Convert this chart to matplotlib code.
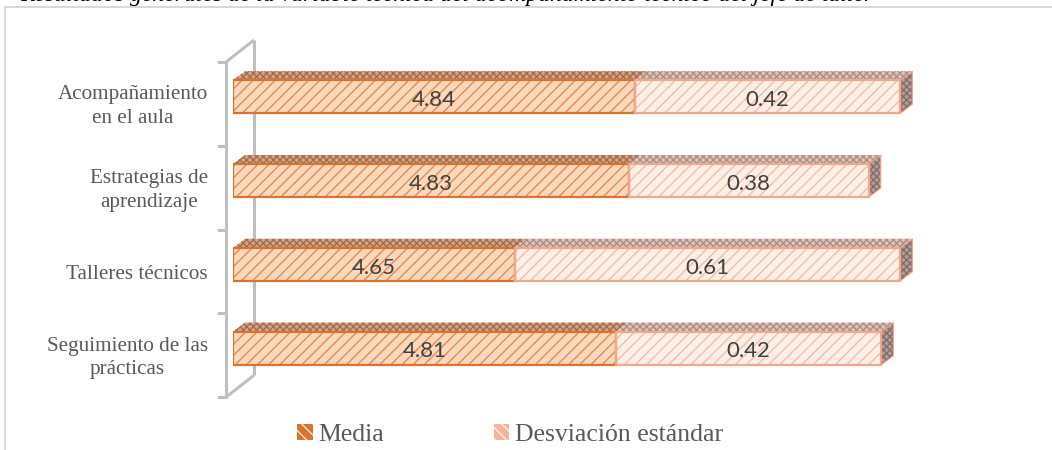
import matplotlib
matplotlib.use("Agg")
import matplotlib.pyplot as plt
import numpy as np
from matplotlib.patches import Polygon, Patch
from matplotlib.lines import Line2D

# ---------------- data ----------------
categories = ["Acompañamiento\nen el aula", "Estrategias de\naprendizaje",
              "Talleres técnicos", "Seguimiento de las\nprácticas"]
media = [4.84, 4.83, 4.65, 4.81]
desviacion = [0.42, 0.38, 0.61, 0.42]
series_names = ["Media", "Desviación estándar"]
title_text = ("Resultados generales de la variable técnica del acompañamiento "
              "técnico del jefe de taller")
x_min = 4.204

# ---------------- figure ----------------
W, H = 1052, 450
fig = plt.figure(figsize=(W / 100, H / 100), dpi=100)
plt.rcParams['hatch.linewidth'] = 1.0

def fx(x):
    return x / W

def fy(y):
    return 1 - y / H

# axes: bars start at px 233, 632 px per unit
ax_left, ax_right, ax_top, ax_bot = 233, 1001, 40, 400
ax = fig.add_axes([fx(ax_left), fy(ax_bot), (ax_right - ax_left) / W, (ax_bot - ax_top) / H])
ax.set_xlim(x_min, x_min + (ax_right - ax_left) / 632)
ax.set_ylim(3.619, -0.677)
ax.axis('off')

n = len(categories)
ypos = np.arange(n)
bar_h = 0.394

# pixel -> data conversion for 3D depth
ppx = (ax_right - ax_left) / (ax.get_xlim()[1] - ax.get_xlim()[0])
ppy = (ax_bot - ax_top) / (ax.get_ylim()[0] - ax.get_ylim()[1])
ddx = 12 / ppx
ddy = 9 / ppy

media = np.array(media)
desviacion = np.array(desviacion)

# colors
m_face, m_hatch, m_edge = '#FBD9BF', '#E98A4C', '#D9742F'
d_face, d_hatch, d_edge = '#FEF0E8', '#F6BCA4', '#F2A88D'
m_top_face, m_top_hatch = '#DCA382', '#9A6E56'
d_top_face, d_top_hatch = '#E6C2B6', '#A48F89'
side_face_c, side_hatch = '#B99A94', '#7E6E6B'

# ----- wall (3D axis frame) -----
wall_c = '#BFBFBF'
front_x, back_x = ax_left - 7, ax_left + 21
bounds_px = []
for b in np.arange(-0.5, n, 1.0):
    disp = ax.transData.transform((x_min, b))
    bounds_px.append(H - disp[1] + 7.2)
top_f, bot_f = bounds_px[0], bounds_px[-1]
top_b, bot_b = top_f - 22, bot_f - 22
for (x0, y0, x1, y1) in [(front_x, top_f, front_x, bot_f),
                         (front_x, top_f, back_x, top_b),
                         (front_x, bot_f, back_x, bot_b),
                         (back_x, top_b, back_x, bot_b)]:
    fig.add_artist(Line2D([fx(x0), fx(x1)], [fy(y0), fy(y1)], color=wall_c,
                          lw=2.2, transform=fig.transFigure, zorder=0,
                          solid_capstyle='butt'))
for by in bounds_px:
    fig.add_artist(Line2D([fx(front_x - 7), fx(front_x)], [fy(by), fy(by)],
                          color=wall_c, lw=2.2, transform=fig.transFigure, zorder=0))

# ----- bars -----
def hatched_barh(y, width, left, face, hatch_c, edge, z):
    ax.barh(y, width, left=left, height=bar_h, color=face, edgecolor=hatch_c,
            hatch='///', linewidth=0, zorder=z)
    ax.barh(y, width, left=left, height=bar_h, fill=False, edgecolor=edge,
            linewidth=1.6, zorder=z + 0.1)

def top_face(x0, x1, y, face, hatch_c, z):
    yt = y - bar_h / 2
    pts = [(x0, yt), (x1, yt), (x1 + ddx, yt - ddy), (x0 + ddx, yt - ddy)]
    ax.add_patch(Polygon(pts, closed=True, facecolor=face, edgecolor=hatch_c,
                         hatch='xxxxx', linewidth=0, zorder=z, clip_on=False))

def side_face(x1, y, z):
    yt, yb = y - bar_h / 2, y + bar_h / 2
    pts = [(x1, yt), (x1, yb), (x1 + ddx, yb - ddy), (x1 + ddx, yt - ddy)]
    ax.add_patch(Polygon(pts, closed=True, facecolor=side_face_c, edgecolor=side_hatch,
                         hatch='xxxxx', linewidth=0, zorder=z, clip_on=False))
    ax.add_patch(Polygon(pts, closed=True, fill=False, edgecolor=d_edge,
                         linewidth=0.8, zorder=z + 0.1, clip_on=False))

for i in range(n):
    y = ypos[i]
    total = media[i] + desviacion[i]
    top_face(x_min, media[i], y, m_top_face, m_top_hatch, 2)
    top_face(media[i], total, y, d_top_face, d_top_hatch, 2)
    side_face(total, y, 2)
    hatched_barh(y, media[i] - x_min, x_min, m_face, m_hatch, m_edge, 3)
    hatched_barh(y, desviacion[i], media[i], d_face, d_hatch, d_edge, 3)
    ax.text((x_min + media[i]) / 2, y + 0.04, f"{media[i]:.2f}", ha='center', va='center',
            fontsize=16, family='Lato', color='#404040', zorder=5)
    ax.text(media[i] + desviacion[i] / 2, y + 0.04, f"{desviacion[i]:.2f}", ha='center',
            va='center', fontsize=16, family='Lato', color='#404040', zorder=5)
    ax.annotate(categories[i], xy=(x_min, y), xycoords='data', xytext=(-25, -10),
                textcoords='offset pixels', ha='right', va='center',
                multialignment='center', fontsize=15.2, family='Liberation Serif',
                color='#595959', linespacing=1.32, annotation_clip=False)

# ----- outer chart border -----
border_c = '#D9D9D9'
fig.add_artist(Line2D([fx(5), fx(W)], [fy(7), fy(7)], color=border_c, lw=1.5,
                      transform=fig.transFigure))
fig.add_artist(Line2D([fx(5), fx(5)], [fy(7), fy(H)], color=border_c, lw=1.5,
                      transform=fig.transFigure))

# ----- caption cut by the top edge, as in the reference -----
fig.text(fx(20), fy(0.6), title_text, ha='left', va='baseline', fontsize=17,
         family='Liberation Serif', style='italic', color='#000000')

# ----- legend -----
handles = [Patch(facecolor='#D9742F', edgecolor='#FBE2D2', hatch='\\\\\\', linewidth=0),
           Patch(facecolor='#F4B59C', edgecolor='#FEF0E8', hatch='\\\\\\', linewidth=0)]
fig.legend(handles, series_names, loc='center', bbox_to_anchor=(fx(510), fy(435)),
           ncol=2, frameon=False, prop={'family': 'Liberation Serif', 'size': 18.5},
           handlelength=0.6, handleheight=0.6, handletextpad=0.2, columnspacing=4.3,
           labelcolor='#595959', borderaxespad=0, borderpad=0)

fig.savefig('out.png', dpi=100)
